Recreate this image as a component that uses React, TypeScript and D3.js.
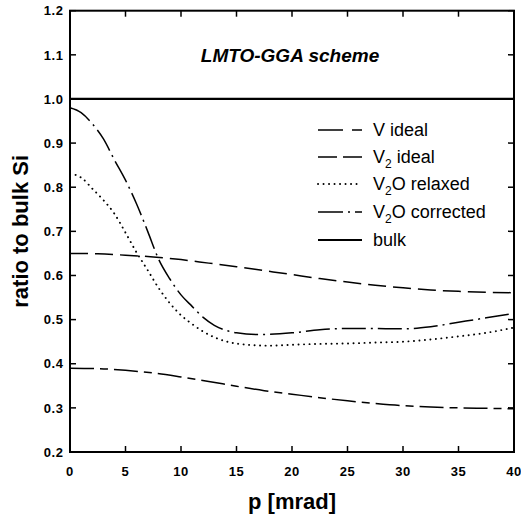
import React from "react";
import * as d3 from "d3";

// momentum grid (mrad) for the ideal curves
const pIdeal = [0, 2.5, 5, 7.5, 10, 12.5, 15, 17.5, 20, 22.5, 25, 27.5, 30, 32.5, 35, 37.5, 40];
const vIdeal = [0.39, 0.389, 0.385, 0.379, 0.37, 0.36, 0.349, 0.339, 0.331, 0.323, 0.316, 0.31, 0.305, 0.302, 0.3, 0.299, 0.298];
const v2Ideal = [0.65, 0.649, 0.646, 0.642, 0.636, 0.628, 0.62, 0.611, 0.602, 0.593, 0.585, 0.578, 0.572, 0.567, 0.564, 0.562, 0.561];

const pRelaxed = [0.5, 1, 2, 3, 4, 5, 6, 7, 8, 9, 10, 11, 12, 13, 14, 16, 18, 20, 22.5, 25, 27.5, 30, 32.5, 35, 37.5, 40];
const v2oRelaxed = [0.828, 0.822, 0.797, 0.771, 0.74, 0.697, 0.652, 0.612, 0.571, 0.537, 0.51, 0.49, 0.473, 0.46, 0.451, 0.443, 0.441, 0.443, 0.445, 0.446, 0.448, 0.45, 0.455, 0.462, 0.47, 0.482];

const pCorrected = [0, 1, 2, 3, 4, 5, 6, 7, 8, 9, 10, 11, 12, 13, 14, 15, 17, 20, 22.5, 25, 27.5, 30, 32.5, 35, 37.5, 40];
const v2oCorrected = [0.98, 0.969, 0.944, 0.91, 0.862, 0.816, 0.762, 0.7, 0.636, 0.592, 0.556, 0.53, 0.505, 0.487, 0.476, 0.47, 0.466, 0.47, 0.477, 0.48, 0.48, 0.479, 0.484, 0.494, 0.504, 0.514];

const bulkValue = 1.0;

const xTicks = [0, 5, 10, 15, 20, 25, 30, 35, 40];
const yTicks = [0.2, 0.3, 0.4, 0.5, 0.6, 0.7, 0.8, 0.9, 1.0, 1.1, 1.2];

const FONT = "Arial, 'Liberation Sans', Helvetica, sans-serif";

const App = () => {
  const width = 521;
  const height = 518;
  const margin = { top: 10.7, right: 7, bottom: 66, left: 70 };
  const x0 = margin.left;
  const x1 = width - margin.right;
  const y0 = height - margin.bottom;
  const y1 = margin.top;

  const xScale = d3.scaleLinear().domain([0, 40]).range([x0, x1]);
  const yScale = d3.scaleLinear().domain([0.2, 1.2]).range([y0, y1]);

  const line = d3
    .line<[number, number]>()
    .x((d) => xScale(d[0]))
    .y((d) => yScale(d[1]))
    .curve(d3.curveMonotoneX);

  const zip = (xs: number[], ys: number[]) => xs.map((v, i) => [v, ys[i]] as [number, number]);

  const series = [
    { label: ["V", "", " ideal"], pts: zip(pIdeal, vIdeal), dash: "24,6,8,6", cap: "butt" },
    { label: ["V", "2", " ideal"], pts: zip(pIdeal, v2Ideal), dash: "18,7", cap: "butt" },
    { label: ["V", "2", "O relaxed"], pts: zip(pRelaxed, v2oRelaxed), dash: "0.1,5.4", cap: "round" },
    { label: ["V", "2", "O corrected"], pts: zip(pCorrected, v2oCorrected), dash: "24,5,2,5", cap: "butt" },
    { label: ["bulk", "", ""], pts: zip([0, 40], [bulkValue, bulkValue]), dash: "none", cap: "butt" },
  ];

  const tick = 6;
  const legendY = [130, 157, 184, 212, 240];

  return (
    <svg width={width} height={height} style={{ position: "absolute", left: 0, top: 0, background: "#fff" }}>
      <rect x={0} y={0} width={width} height={height} fill="#fff" />

      {series.map((s, i) => (
        <path
          key={"c" + i}
          d={line(s.pts) || ""}
          fill="none"
          stroke="#000"
          strokeWidth={i === 4 ? 2.2 : i === 2 ? 1.9 : 1.5}
          strokeDasharray={s.dash}
          strokeLinecap={s.cap as any}
        />
      ))}

      {/* frame */}
      <rect x={x0} y={y1} width={x1 - x0} height={y0 - y1} fill="none" stroke="#000" strokeWidth={2} />

      {/* x ticks */}
      {xTicks.map((t) => (
        <g key={"x" + t}>
          <line x1={xScale(t)} x2={xScale(t)} y1={y0} y2={y0 - tick} stroke="#000" strokeWidth={1.5} />
          <line x1={xScale(t)} x2={xScale(t)} y1={y1} y2={y1 + tick} stroke="#000" strokeWidth={1.5} />
          <text x={xScale(t)} y={y0 + 24} textAnchor="middle" fontFamily={FONT} fontWeight="bold" fontSize={13} letterSpacing={0.6}>
            {t}
          </text>
        </g>
      ))}

      {/* y ticks */}
      {yTicks.map((t) => (
        <g key={"y" + t}>
          <line x1={x0} x2={x0 + tick} y1={yScale(t)} y2={yScale(t)} stroke="#000" strokeWidth={1.5} />
          <line x1={x1} x2={x1 - tick} y1={yScale(t)} y2={yScale(t)} stroke="#000" strokeWidth={1.5} />
          <text x={63.5} y={yScale(t) + 4.7} textAnchor="end" fontFamily={FONT} fontWeight="bold" fontSize={13} letterSpacing={0.6}>
            {t.toFixed(1)}
          </text>
        </g>
      ))}

      {/* title */}
      <text x={290} y={62} textAnchor="middle" fontFamily={FONT} fontWeight="bold" fontStyle="italic" fontSize={19}>
        LMTO-GGA scheme
      </text>

      {/* legend */}
      {series.map((s, i) => (
        <g key={"l" + i}>
          <line
            x1={318}
            x2={362}
            y1={legendY[i]}
            y2={legendY[i]}
            stroke="#000"
            strokeWidth={i === 4 ? 2.2 : i === 2 ? 1.9 : 1.5}
            strokeDasharray={i === 0 ? "25,9,10,0" : i === 1 ? "19,6,19,0" : i === 2 ? "0.1,5.4" : i === 3 ? "25,5,2,5,7,0" : "none"}
            strokeLinecap={s.cap as any}
          />
          <text x={373} y={legendY[i] + 6} fontFamily={FONT} fontSize={18}>
            {s.label[0]}
            {s.label[1] && (
              <tspan fontSize={12} dy={5}>
                {s.label[1]}
              </tspan>
            )}
            {s.label[2] && <tspan dy={s.label[1] ? -5 : 0}>{s.label[2]}</tspan>}
          </text>
        </g>
      ))}

      {/* axis labels */}
      <text x={292} y={509} textAnchor="middle" fontFamily={FONT} fontWeight="bold" fontSize={22}>
        p [mrad]
      </text>
      <text
        transform={`translate(28,${(y0 + y1) / 2}) rotate(-90)`}
        textAnchor="middle"
        fontFamily={FONT}
        fontWeight="bold"
        fontSize={22}
      >
        ratio to bulk Si
      </text>
    </svg>
  );
};

export default App;
